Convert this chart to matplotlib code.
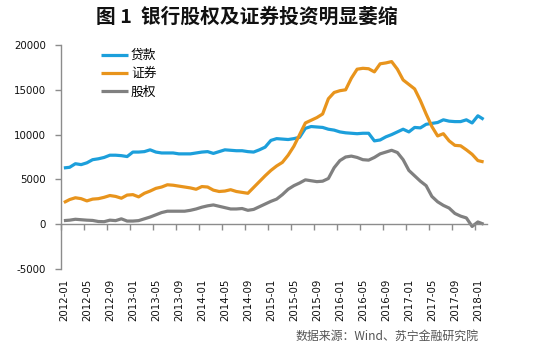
import matplotlib
matplotlib.use("Agg")
import matplotlib.pyplot as plt
from matplotlib.ticker import FixedLocator, FixedFormatter, NullFormatter

plt.rcParams['font.family'] = ['Noto Sans CJK SC', 'DejaVu Sans']

# Monthly series, 2012-01 .. 2018-02 (亿元)
months = [f"{y}-{m:02d}" for y in range(2012, 2019) for m in range(1, 13)][:74]

loans = [6280, 6350, 6750, 6650, 6850, 7200, 7300, 7450, 7700, 7700, 7650, 7550,
         8050, 8050, 8100, 8300, 8050, 7950, 7950, 7950, 7850, 7850, 7850, 7950,
         8050, 8100, 7900, 8100, 8300, 8250, 8200, 8200, 8100, 8050, 8300, 8600,
         9350, 9550, 9500, 9450, 9550, 9700, 10700, 10900, 10850, 10800, 10600, 10500,
         10300, 10200, 10150, 10100, 10150, 10150, 9300, 9400, 9750, 10000, 10300, 10600,
         10300, 10800, 10750, 11150, 11250, 11350, 11650, 11500, 11450, 11450, 11650, 11300,
         12100, 11700]

securities = [2420, 2750, 2950, 2850, 2600, 2800, 2850, 3000, 3200, 3100, 2900, 3250,
              3300, 3050, 3450, 3700, 4000, 4150, 4400, 4350, 4250, 4150, 4050, 3900,
              4200, 4150, 3800, 3650, 3700, 3850, 3650, 3550, 3450, 4100, 4750, 5400,
              6000, 6500, 6900, 7700, 8700, 10000, 11300, 11600, 11900, 12300, 14000, 14700,
              14900, 15000, 16300, 17300, 17400, 17350, 17000, 17900, 18000, 18150, 17300, 16100,
              15600, 15100, 13800, 12300, 10900, 9850, 10100, 9300, 8800, 8750, 8300, 7800,
              7100, 6950]

equity = [400, 450, 550, 500, 450, 420, 300, 280, 450, 400, 600, 350,
          350, 400, 600, 800, 1050, 1300, 1450, 1450, 1450, 1450, 1550, 1700,
          1900, 2050, 2150, 2000, 1850, 1700, 1700, 1750, 1550, 1650, 1950, 2250,
          2550, 2800, 3300, 3900, 4300, 4600, 4950, 4850, 4750, 4800, 5100, 6300,
          7100, 7500, 7600, 7450, 7200, 7150, 7450, 7850, 8050, 8250, 8000, 7200,
          6000, 5400, 4800, 4300, 3100, 2500, 2100, 1800, 1200, 900, 700, -250,
          250, 0]

series_names = ["贷款", "证券", "股权"]
series_colors = ["#1C9FDB", "#E8941C", "#808080"]
y_ticks = [-5000, 0, 5000, 10000, 15000, 20000]

fig = plt.figure(figsize=(5.38, 3.47), dpi=100)
ax = fig.add_axes([61 / 538, 78 / 347, 425.5 / 538, 224 / 347])

x = list(range(len(months)))
for vals, name, col in zip([loans, securities, equity], series_names, series_colors):
    ax.plot(x, vals, color=col, lw=2.3, label=name, solid_joinstyle='round',
            solid_capstyle='butt')

ax.set_xlim(-0.5, len(months) - 0.5)
ax.set_ylim(y_ticks[0], y_ticks[-1])

axis_grey = "#8C8C8C"
for s in ("top", "right"):
    ax.spines[s].set_visible(False)
ax.spines["left"].set_color(axis_grey)
ax.spines["left"].set_linewidth(1.0)
ax.spines["bottom"].set_position(("data", 0))
ax.spines["bottom"].set_color(axis_grey)
ax.spines["bottom"].set_linewidth(1.0)

ax.set_yticks(y_ticks)
ax.set_yticklabels([str(v) for v in y_ticks])
ax.tick_params(axis="y", direction="out", length=4, width=1, color=axis_grey,
               labelsize=7.4, pad=7, labelcolor="#111111")
for lbl in ax.get_yticklabels():
    lbl.set_family("DejaVu Sans")

# category boundaries carry tick marks, category centres carry labels
label_idx = list(range(0, len(months), 4))
ax.xaxis.set_major_locator(FixedLocator([i - 0.5 for i in label_idx]))
ax.xaxis.set_major_formatter(NullFormatter())
ax.xaxis.set_minor_locator(FixedLocator(label_idx))
ax.xaxis.set_minor_formatter(FixedFormatter([months[i] for i in label_idx]))
ax.tick_params(axis="x", which="major", direction="out", length=4.5, width=1,
               color=axis_grey)
ax.tick_params(axis="x", which="minor", length=0, pad=39.5, labelsize=7.4,
               labelrotation=90, labelcolor="#111111")
for lbl in ax.get_xticklabels(minor=True):
    lbl.set_family("DejaVu Sans")
    lbl.set_verticalalignment("top")

leg = ax.legend(loc="upper left", frameon=False, fontsize=9.2,
                handlelength=2.1, handletextpad=0.25, labelspacing=0.42,
                borderaxespad=0, borderpad=0)
leg.set_bbox_to_anchor((101 / 538, (347 - 49) / 347), transform=fig.transFigure)

fig.text(247 / 538, 1 - 17 / 347, "图 1  银行股权及证券投资明显萎缩", ha="center",
         va="center", fontsize=14.2, fontweight="bold", color="#111111")
fig.text(479 / 538, 1 - 336 / 347, "数据来源：Wind、苏宁金融研究院", ha="right",
         va="center", fontsize=8.6, style="italic", color="#555555")

fig.savefig("out.png", dpi=100)
